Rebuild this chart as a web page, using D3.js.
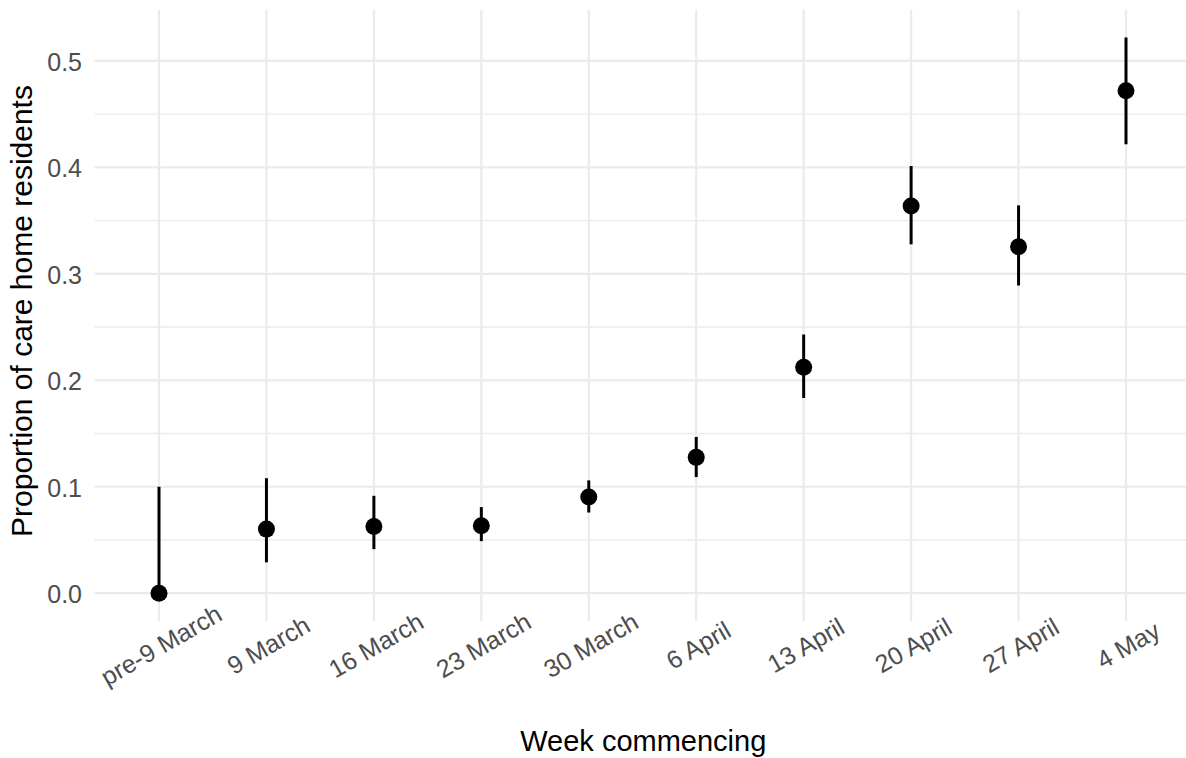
<!DOCTYPE html>
<html><head><meta charset="utf-8">
<script src="https://cdn.jsdelivr.net/npm/d3@7"></script>
<style>body{margin:0;background:#fff}svg{display:block}</style>
</head><body>
<svg id="c" width="1186" height="758"></svg>
<script>
const weeks = ["pre-9 March","9 March","16 March","23 March","30 March","6 April","13 April","20 April","27 April","4 May"];
const estimate = [0.000,0.0602,0.0627,0.0633,0.0903,0.1276,0.2122,0.3637,0.3255,0.4719];
const lower    = [0.000,0.0290,0.0414,0.0489,0.0758,0.1091,0.1834,0.3277,0.2890,0.4217];
const upper    = [0.100,0.1080,0.0915,0.0809,0.1060,0.1468,0.2430,0.4013,0.3643,0.5220];
const yTicks = [0,0.1,0.2,0.3,0.4,0.5];
const yMinor = [0.05,0.15,0.25,0.35,0.45];

const svg = d3.select("#c");
const W = 1186, H = 758;
const panel = {left: 94.5, right: 1190.5, top: 9.7, bottom: 621};
const font = "'Liberation Sans', Arial, sans-serif";

const x = d3.scalePoint().domain(weeks).range([159, 1126]);
const yMax = d3.max(upper), yMin = 0;
const pad = (yMax - yMin) * 0.05;
const y = d3.scaleLinear().domain([yMin - pad, yMax + pad]).range([panel.bottom, panel.top]);

const g = svg.append("g");
g.selectAll("line.minor").data(yMinor).join("line")
  .attr("x1", panel.left).attr("x2", W)
  .attr("y1", d => y(d)).attr("y2", d => y(d))
  .attr("stroke", "#ebebeb").attr("stroke-width", 1.4);
g.selectAll("line.majy").data(yTicks).join("line")
  .attr("x1", panel.left).attr("x2", W)
  .attr("y1", d => y(d)).attr("y2", d => y(d))
  .attr("stroke", "#ebebeb").attr("stroke-width", 2.2);
g.selectAll("line.majx").data(weeks).join("line")
  .attr("x1", d => x(d)).attr("x2", d => x(d))
  .attr("y1", panel.top).attr("y2", panel.bottom)
  .attr("stroke", "#ebebeb").attr("stroke-width", 2.2);

g.selectAll("text.yt").data(yTicks).join("text")
  .attr("x", 82).attr("y", d => y(d) + 1)
  .attr("text-anchor", "end").attr("dominant-baseline", "central")
  .attr("font-family", font).attr("font-size", 25).attr("fill", "#4d4d4d")
  .text(d => d3.format(".1f")(d));

g.selectAll("text.xt").data(weeks).join("text")
  .attr("transform", d => `translate(${x(d) + 2},645) rotate(-30)`)
  .attr("text-anchor", "middle").attr("dominant-baseline", "central")
  .attr("font-family", font).attr("font-size", 25).attr("fill", "#4d4d4d")
  .text(d => d);

g.selectAll("line.err").data(weeks).join("line")
  .attr("x1", d => x(d)).attr("x2", d => x(d))
  .attr("y1", (d,i) => y(lower[i])).attr("y2", (d,i) => y(upper[i]))
  .attr("stroke", "#000").attr("stroke-width", 3);
g.selectAll("circle").data(weeks).join("circle")
  .attr("cx", d => x(d)).attr("cy", (d,i) => y(estimate[i]))
  .attr("r", 8.5).attr("fill", "#000");

svg.append("text").attr("x", (panel.left + W) / 2 + 3).attr("y", 751)
  .attr("text-anchor", "middle").attr("font-family", font).attr("font-size", 29)
  .attr("fill", "#000").text("Week commencing");
svg.append("text").attr("transform", `translate(32,311) rotate(-90)`)
  .attr("text-anchor", "middle").attr("font-family", font).attr("font-size", 30)
  .attr("fill", "#000").text("Proportion of care home residents");
</script>
</body></html>
